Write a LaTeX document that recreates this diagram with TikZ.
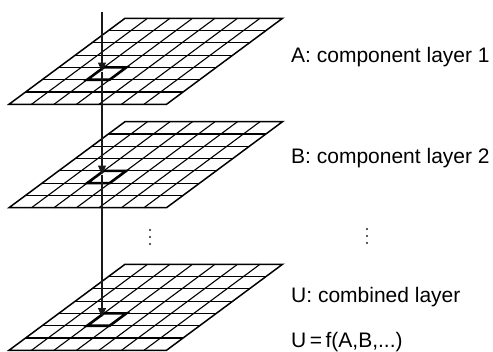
\documentclass[tikz,border=0pt]{standalone}
\usepackage{fontspec}
\setmainfont{Liberation Sans}
\usetikzlibrary{arrows.meta}
\tikzset{
  gridline/.style={line width=1.1pt, black},
  borderline/.style={line width=1.5pt, black, line join=miter},
  cellbox/.style={line width=2.6pt, black, line join=miter},
  flow/.style={line width=1.1pt, black!90, -{Triangle[length=9pt,width=8pt]}},
  lbl/.style={anchor=base west, inner sep=0pt, font=\fontsize{21}{24}\selectfont},
  dotmark/.style={fill=black!85, draw=none},
}
% layer: bottom-left corner at (9,B), 7x7 grid, width 157.5, shift 116 over height 86
\newcommand{\gridlayer}[1]{%
  \begin{scope}[shift={(0,#1)}]
    \foreach \i in {1,...,6} {
      \draw[gridline] (9+\i*116/7, -\i*86/7) -- ++(157.5,0);
      \draw[gridline] (9+\i*22.5, 0) -- (125+\i*22.5, -86);
    }
    \draw[borderline] (9,0) -- (166.5,0) -- (282.5,-86) -- (125,-86) -- cycle;
    \draw[cellbox] (9+2*116/7+2*22.5, -2*86/7) -- ++(22.5,0) -- ++(116/7,-86/7) -- ++(-22.5,0) -- cycle;
  \end{scope}}
\begin{document}
\begin{tikzpicture}[x=1pt,y=-1pt]
  \useasboundingbox (0,0) rectangle (493,351);
  \fill[white] (0,0) rectangle (493,351);
  \gridlayer{104.3}
  \gridlayer{207.7}
  \gridlayer{350.3}
  \coordinate (start) at (102,11.5);
  \coordinate (tipA) at (102,71.5);
  \coordinate (tipB) at (102,174.5);
  \coordinate (tipU) at (102,317);
  \draw[flow] (start) -- (tipA);
  \draw[flow] (tipA) -- (tipB);
  \draw[flow] (tipB) -- (tipU);
  \foreach \y in {230,237,244} {
    \fill[dotmark] (150,\y) circle (1.2);
    \fill[dotmark] (367,\y-1) circle (1.2);
  }
  \node[lbl] (la) at (291,62.5) {A: component layer 1};
  \node[lbl] (lb) at (291,163.5) {B: component layer 2};
  \node[lbl] (lu) at (291,302.5) {U: combined layer};
  \node[lbl] (lf) at (291,347) {U\,=\,f(A,B,...)};
\end{tikzpicture}
\end{document}
